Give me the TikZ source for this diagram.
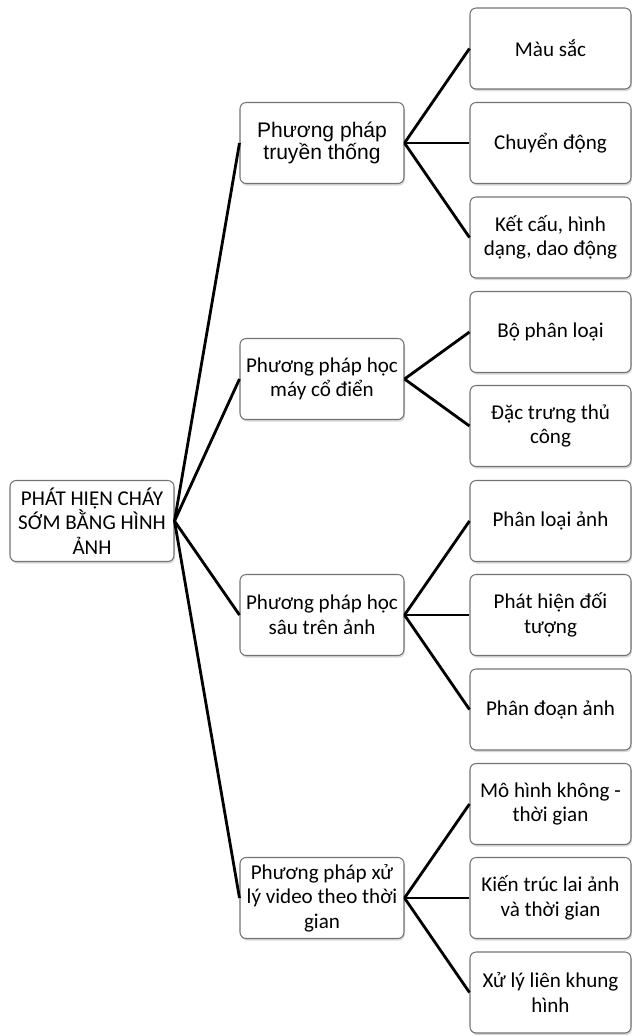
\documentclass[tikz,border=0pt]{standalone}
\usepackage{fontspec}
\setmainfont{Carlito}
\newfontfamily\arialfont{Liberation Sans}
\usetikzlibrary{shadows}

\begin{document}
\begin{tikzpicture}[x=0.02cm,y=-0.02cm,line width=1.6pt,
  font=\fontsize{12}{14}\selectfont,
  box/.style={draw=black!55,line width=0.6pt,rounded corners=3.5pt,fill=white,
    align=center,inner sep=2pt,minimum height=1.62cm,
    drop shadow={shadow xshift=0.6pt,shadow yshift=-1.2pt,opacity=0.3}},
  midbox/.style={box,minimum width=3.28cm},
  leafbox/.style={box,minimum width=3.22cm}]
  \useasboundingbox (0,0) rectangle (632,1036);

  % goc
  \node[midbox] (root) at (92,521) {PHÁT HIỆN CHÁY\\SỚM BẰNG HÌNH\\ẢNH};

  % nhanh chinh
  \node[midbox,font=\arialfont\fontsize{12}{11.5}\selectfont] (trad) at (322,143) {Phương pháp\\truyền thống};
  \node[midbox] (ml) at (322,379) {Phương pháp học\\máy cổ điển};
  \node[midbox] (dl) at (322,615) {Phương pháp học\\sâu trên ảnh};
  \node[midbox] (vid) at (322,898) {Phương pháp xử\\lý video theo thời\\gian};

  % la
  \node[leafbox] (color) at (550.5,48.5) {Màu sắc};
  \node[leafbox] (motion) at (550.5,143) {Chuyển động};
  \node[leafbox] (texture) at (550.5,237.5) {Kết cấu, hình\\dạng, dao động};
  \node[leafbox] (clf) at (550.5,332) {Bộ phân loại};
  \node[leafbox] (feat) at (550.5,426) {Đặc trưng thủ\\công};
  \node[leafbox] (imgclf) at (550.5,521) {Phân loại ảnh};
  \node[leafbox] (det) at (550.5,615) {Phát hiện đối\\tượng};
  \node[leafbox] (seg) at (550.5,709.5) {Phân đoạn ảnh};
  \node[leafbox] (st) at (550.5,804) {Mô hình không -\\thời gian};
  \node[leafbox] (hybrid) at (550.5,898) {Kiến trúc lai ảnh\\và thời gian};
  \node[leafbox] (frames) at (550.5,992.5) {Xử lý liên khung\\hình};

  % duong noi
  \foreach \b in {trad,ml,dl,vid}
    \draw (root.east) -- (\b.west);
  \foreach \l in {color,motion,texture}
    \draw (trad.east) -- (\l.west);
  \foreach \l in {clf,feat}
    \draw (ml.east) -- (\l.west);
  \foreach \l in {imgclf,det,seg}
    \draw (dl.east) -- (\l.west);
  \foreach \l in {st,hybrid,frames}
    \draw (vid.east) -- (\l.west);
\end{tikzpicture}
\end{document}
